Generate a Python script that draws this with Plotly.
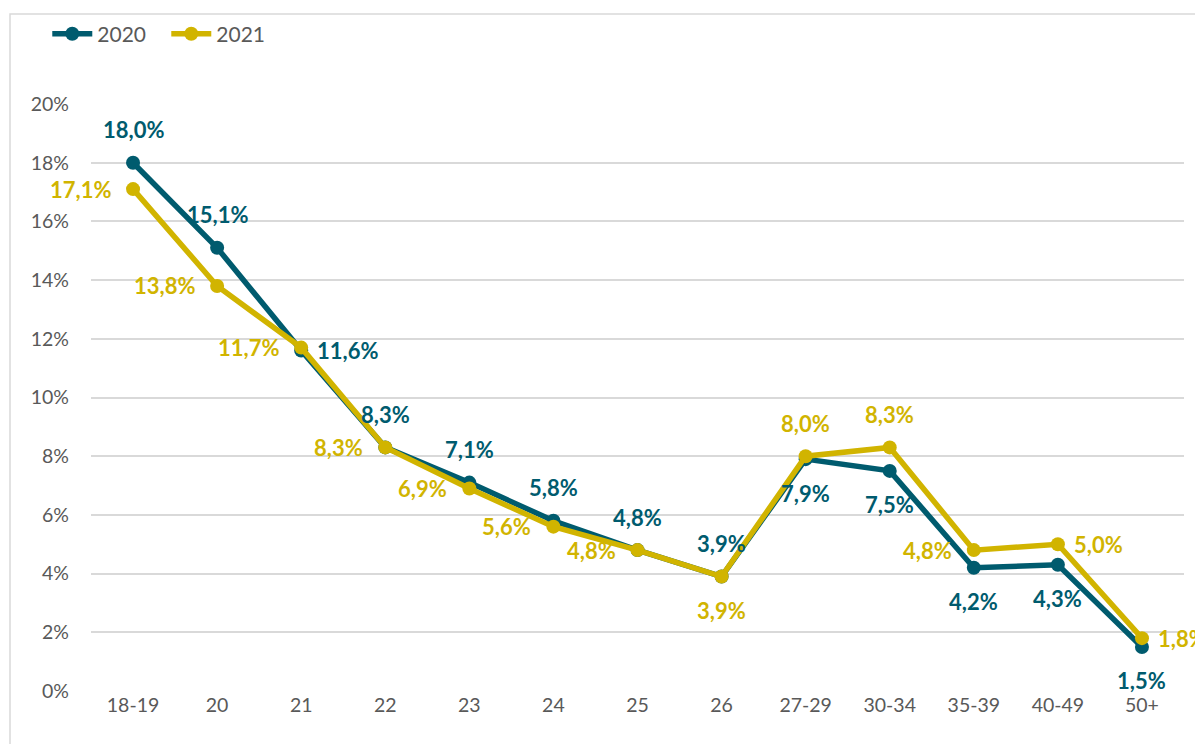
import plotly.graph_objects as go

categories = ["18-19", "20", "21", "22", "23", "24", "25", "26", "27-29", "30-34", "35-39", "40-49", "50+"]
values_2020 = [18.0, 15.1, 11.6, 8.3, 7.1, 5.8, 4.8, 3.9, 7.9, 7.5, 4.2, 4.3, 1.5]
values_2021 = [17.1, 13.8, 11.7, 8.3, 6.9, 5.6, 4.8, 3.9, 8.0, 8.3, 4.8, 5.0, 1.8]
pos_2020 = ["above", "above", "right", "above", "above", "above", "above", "above", "below", "below", "below", "below", "below"]
pos_2021 = ["left", "left", "left", "left", "left", "left", "left", "below", "above", "above", "left", "right", "right"]
y_ticks = [0, 2, 4, 6, 8, 10, 12, 14, 16, 18, 20]

C2020 = "#005B6E"
C2021 = "#D1B400"
FONT = "Lato"

fig = go.Figure()
for name, vals, col in [("2020", values_2020, C2020), ("2021", values_2021, C2021)]:
    fig.add_trace(go.Scatter(
        x=list(range(len(categories))), y=vals, name=name, mode="lines+markers",
        line=dict(color=col, width=5.5), marker=dict(color=col, size=14),
        hoverinfo="skip",
    ))

def fmt(v):
    return f"{v:.1f}%".replace(".", ",")

annotations = []
for vals, poss, col in [(values_2020, pos_2020, C2020), (values_2021, pos_2021, C2021)]:
    for i, (v, p) in enumerate(zip(vals, poss)):
        a = dict(x=i, y=v, xref="x", yref="y", text=fmt(v), showarrow=False,
                 font=dict(family=FONT, size=22, color=col, weight="bold"))
        if p == "above":
            a.update(xanchor="center", yanchor="middle", yshift=33)
        elif p == "below":
            a.update(xanchor="center", yanchor="middle", yshift=-34)
        elif p == "left":
            a.update(xanchor="right", yanchor="middle", xshift=-20)
        else:
            a.update(xanchor="left", yanchor="middle", xshift=14)
        annotations.append(a)

fig.update_layout(
    width=1195, height=736,
    margin=dict(l=83, r=19, t=96, b=53, autoexpand=False),
    paper_bgcolor="white", plot_bgcolor="white",
    font=dict(family=FONT, size=19.5, color="#595959"),
    showlegend=True,
    legend=dict(orientation="h", x=-0.040, y=1.119, xanchor="left", yanchor="middle",
                font=dict(family=FONT, size=21, color="#595959"), itemwidth=40,
                entrywidth=64, bgcolor="rgba(0,0,0,0)", tracegroupgap=0),
    xaxis=dict(range=[-0.5, 12.5], showgrid=False, showline=False, zeroline=False,
               tickvals=list(range(len(categories))), ticktext=categories,
               ticks="", tickfont=dict(family=FONT, size=19.5, color="#595959"), fixedrange=True),
    yaxis=dict(range=[0, 20], tickvals=y_ticks, ticktext=[f"{t}%" for t in y_ticks],
               showgrid=True, gridcolor="#D9D9D9", gridwidth=1.5, zeroline=False,
               showline=False, ticks="", ticklabelstandoff=21,
               tickfont=dict(family=FONT, size=19.5, color="#595959"), fixedrange=True),
    annotations=annotations,
    shapes=[dict(type="rect", xref="paper", yref="paper",
                 x0=-0.0741, x1=1.03, y0=-0.12, y1=1.1533,
                 line=dict(color="#D9D9D9", width=1.5), fillcolor="rgba(0,0,0,0)", layer="below")],
)

fig.write_html("out.html")
